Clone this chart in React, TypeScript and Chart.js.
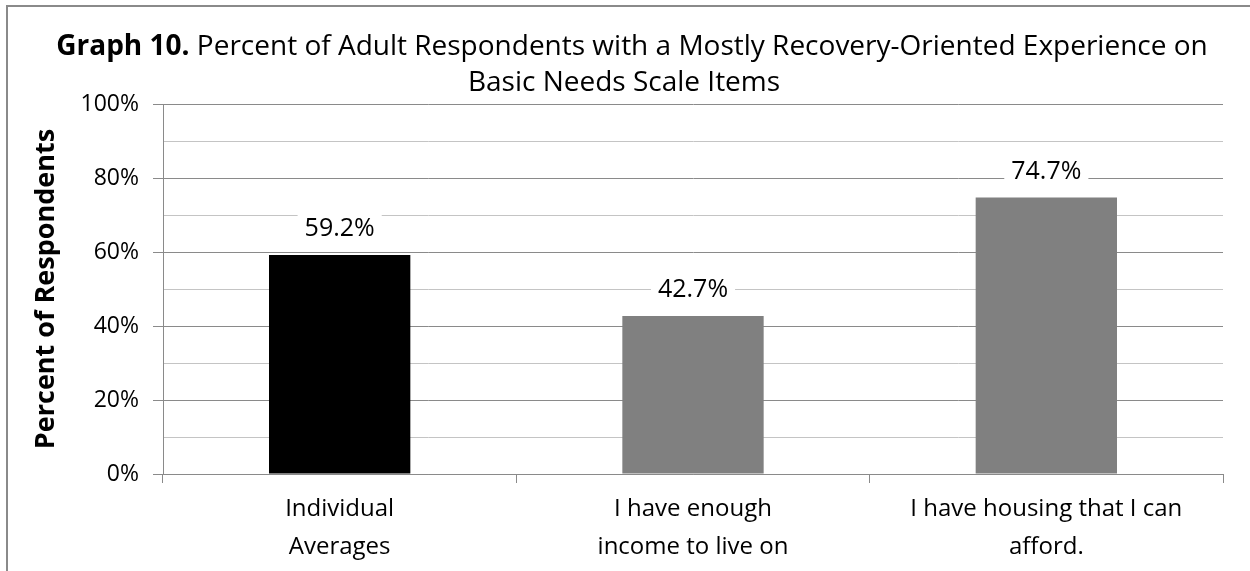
import React, { useEffect, useRef } from "react";
import { Chart, registerables } from "chart.js";

Chart.register(...registerables);

const categories: string[][] = [
  ["Individual", "Averages"],
  ["I have enough", "income to live on"],
  ["I have housing that I can", "afford."],
];
const values: number[] = [59.2, 42.7, 74.7];
const barColors: string[] = ["#000000", "#808080", "#808080"];
const yMin = 0;
const yMax = 100;
const yStep = 10;
const yLabelStep = 20;
const titleBold = "Graph 10.";
const titleRest = " Percent of Adult Respondents with a Mostly Recovery-Oriented Experience on";
const titleLine2 = "Basic Needs Scale Items";
const yAxisTitle = "Percent of Respondents";

const FONT = "'Open Sans', 'Noto Sans', sans-serif";

const framePlugin = {
  id: "frameTitle",
  beforeDraw(chart: any) {
    const ctx = chart.ctx;
    ctx.save();
    ctx.fillStyle = "#ffffff";
    ctx.fillRect(0, 0, chart.width, chart.height);
    ctx.strokeStyle = "#8a8a8a";
    ctx.lineWidth = 2;
    ctx.beginPath();
    ctx.moveTo(7, chart.height);
    ctx.lineTo(7, 6);
    ctx.lineTo(chart.width, 6);
    ctx.stroke();
    ctx.restore();
  },
  afterDraw(chart: any) {
    const ctx = chart.ctx;
    ctx.save();
    ctx.fillStyle = "#000000";
    ctx.textBaseline = "middle";
    ctx.textAlign = "left";
    const boldFont = `bold 28px ${FONT}`;
    const normFont = `28px ${FONT}`;
    ctx.font = boldFont;
    const wb = ctx.measureText(titleBold).width;
    ctx.font = normFont;
    const wr = ctx.measureText(titleRest).width;
    const cx = 632;
    const x = cx - (wb + wr) / 2;
    ctx.font = boldFont;
    ctx.fillText(titleBold, x, 47);
    ctx.font = normFont;
    ctx.fillText(titleRest, x + wb, 47);
    ctx.textAlign = "center";
    ctx.fillText(titleLine2, 624, 83);
    ctx.restore();
  },
};

const labelPlugin = {
  id: "barLabels",
  afterDatasetsDraw(chart: any) {
    const ctx = chart.ctx;
    const meta = chart.getDatasetMeta(0);
    ctx.save();
    ctx.font = `25px ${FONT}`;
    ctx.textAlign = "center";
    ctx.textBaseline = "middle";
    meta.data.forEach((bar: any, i: number) => {
      const txt = values[i].toFixed(1) + "%";
      const w = ctx.measureText(txt).width;
      const y = bar.y - 26;
      ctx.fillStyle = "#ffffff";
      ctx.fillRect(bar.x - w / 2 - 7, y - 14, w + 14, 28);
      ctx.fillStyle = "#000000";
      ctx.fillText(txt, bar.x, y);
    });
    ctx.restore();
  },
};

export default function App() {
  const ref = useRef<HTMLCanvasElement>(null);
  useEffect(() => {
    if (!ref.current) return;
    const chart = new Chart(ref.current, {
      type: "bar",
      data: {
        labels: categories,
        datasets: [
          {
            data: values,
            backgroundColor: barColors,
            borderWidth: 0,
            barPercentage: 0.4,
            categoryPercentage: 1,
          },
        ],
      },
      options: {
        responsive: false,
        animation: false,
        devicePixelRatio: 1,
        layout: { padding: { top: 104, right: 27, left: 0, bottom: 0 } },
        plugins: {
          legend: { display: false },
          title: { display: false },
          tooltip: { enabled: false },
        },
        scales: {
          x: {
            afterFit(scale: any) {
              scale.height = 97;
            },
            grid: {
              drawOnChartArea: false,
              drawTicks: true,
              tickLength: 9,
              color: "#8a8a8a",
              offset: true,
            },
            border: { display: true, color: "#8a8a8a", width: 1 },
            ticks: {
              color: "#000000",
              font: { family: FONT, size: 24, lineHeight: 1.55 },
              padding: 8,
              maxRotation: 0,
              autoSkip: false,
            },
          },
          y: {
            min: yMin,
            max: yMax,
            afterFit(scale: any) {
              scale.width = 163;
            },
            ticks: {
              stepSize: yStep,
              color: "#000000",
              font: { family: FONT, size: 23 },
              padding: 14,
              callback: (v: any) => (Number(v) % yLabelStep === 0 ? v + "%" : ""),
            },
            grid: {
              color: (c: any) =>
                c.tick && c.tick.value % yLabelStep === 0 ? "#8a8a8a" : "#c4c4c4",
              tickColor: (c: any) =>
                c.tick && c.tick.value % yLabelStep === 0 ? "#8a8a8a" : "rgba(0,0,0,0)",
              tickLength: 10,
              lineWidth: 1,
            },
            border: { display: true, color: "#8a8a8a", width: 1 },
            title: {
              display: true,
              text: yAxisTitle,
              color: "#000000",
              font: { family: FONT, size: 27, weight: "bold" },
              padding: { top: 30, bottom: 0 },
            },
          },
        },
      },
      plugins: [framePlugin, labelPlugin],
    });
    return () => chart.destroy();
  }, []);
  return (
    <div style={{ position: "absolute", left: 0, top: 0, width: 1250, height: 571, background: "#fff" }}>
      <canvas ref={ref} width={1250} height={571} style={{ display: "block" }} />
    </div>
  );
}
